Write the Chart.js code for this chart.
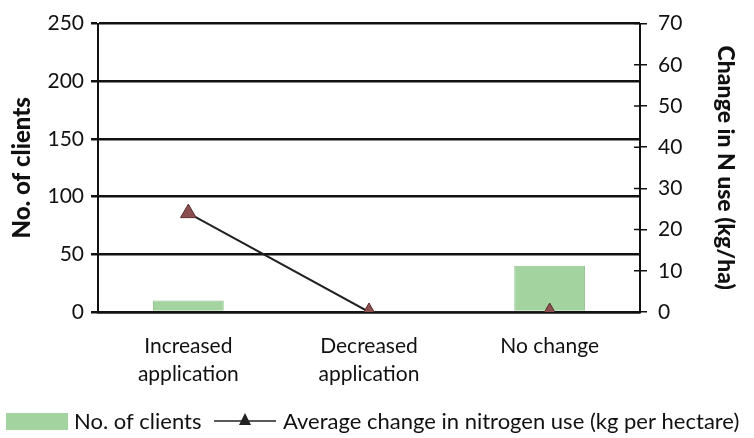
<!DOCTYPE html>
<html>
<head>
<meta charset="utf-8">
<script src="https://cdn.jsdelivr.net/npm/chart.js@4"></script>
<style>
  html, body { margin: 0; padding: 0; background: #fff; }
  #wrap { width: 754px; height: 438px; position: relative; }
</style>
</head>
<body>
<div id="wrap"><canvas id="c"></canvas></div>
<script>
  // данные
  const categories = [["Increased", "application"], ["Decreased", "application"], "No change"];
  const clients = [10, 0, 40];
  const nChange = [24, 0, 0];
  const seriesNames = ["No. of clients", "Average change in nitrogen use (kg per hectare)"];
  const leftTitle = "No. of clients";
  const rightTitle = "Change in N use (kg/ha)";
  const rightTicks = [0, 10, 20, 30, 40, 50, 60, 70];

  const FONT = "Lato, 'Open Sans', sans-serif";
  const BAR_FILL = "#a3d4a0";
  const BAR_EDGE = "#8fc28c";
  const MARK_FILL = "#8c4f4f";
  const INK = "#111";

  // легенда внизу рисуется вручную: прямоугольник + линия с треугольником
  const bottomLegend = {
    id: "bottomLegend",
    afterDraw(chart) {
      const ctx = chart.ctx;
      const y = 421;
      ctx.save();
      ctx.font = "22px " + FONT;
      ctx.textBaseline = "middle";

      ctx.fillStyle = BAR_FILL;
      ctx.fillRect(6, y - 8, 62, 17);
      ctx.fillStyle = INK;
      ctx.fillText(seriesNames[0], 74, y + 1);

      const lx0 = 214, lx1 = 276;
      ctx.strokeStyle = "#222";
      ctx.lineWidth = 1.5;
      ctx.beginPath();
      ctx.moveTo(lx0, y);
      ctx.lineTo(lx1, y);
      ctx.stroke();
      const mx = (lx0 + lx1) / 2;
      ctx.fillStyle = "#222";
      ctx.beginPath();
      ctx.moveTo(mx, y - 8);
      ctx.lineTo(mx + 6, y + 4);
      ctx.lineTo(mx - 6, y + 4);
      ctx.closePath();
      ctx.fill();

      ctx.fillStyle = INK;
      ctx.fillText(seriesNames[1], 283, y + 1);
      ctx.restore();
    },
  };

  // засечки правой оси заходят и внутрь области графика
  const innerTicks = {
    id: "innerTicks",
    afterDatasetsDraw(chart) {
      const s = chart.scales.y2;
      const ctx = chart.ctx;
      ctx.save();
      ctx.strokeStyle = INK;
      ctx.lineWidth = 1.5;
      ctx.beginPath();
      for (const v of rightTicks) {
        const py = s.getPixelForValue(v);
        ctx.moveTo(s.left - 6, py);
        ctx.lineTo(s.left, py);
      }
      ctx.stroke();
      ctx.restore();
    },
  };

  new Chart(document.getElementById("c"), {
    data: {
      labels: categories,
      datasets: [
        {
          type: "line",
          label: seriesNames[1],
          data: nChange,
          yAxisID: "y2",
          borderColor: "#222",
          borderWidth: 2,
          pointStyle: "triangle",
          pointRadius: 9,
          pointBackgroundColor: MARK_FILL,
          pointBorderColor: "#5a2e2e",
          pointBorderWidth: 1,
          fill: false,
          tension: 0,
          order: 0,
        },
        {
          type: "bar",
          label: seriesNames[0],
          data: clients,
          yAxisID: "y",
          backgroundColor: BAR_FILL,
          borderColor: BAR_EDGE,
          borderWidth: 1,
          categoryPercentage: 0.8,
          barPercentage: 0.49,
          order: 1,
        },
      ],
    },
    options: {
      responsive: true,
      maintainAspectRatio: false,
      animation: false,
      layout: { padding: { top: 22, bottom: 46, left: 0, right: 0 } },
      plugins: {
        legend: { display: false },
        tooltip: { enabled: false },
      },
      scales: {
        x: {
          grid: { display: false, drawTicks: false },
          border: { display: true, color: INK, width: 2.5 },
          ticks: {
            color: INK,
            font: { family: FONT, size: 21, lineHeight: 1.33 },
            padding: 20,
            maxRotation: 0,
          },
          afterFit(scale) {
            scale.height = 80;
          },
        },
        y: {
          position: "left",
          min: 0,
          max: 250,
          grid: { color: INK, lineWidth: 2.5, tickLength: 7, drawOnChartArea: true },
          border: { display: true, color: INK, width: 2 },
          ticks: {
            stepSize: 50,
            color: INK,
            font: { family: FONT, size: 21 },
            padding: 7,
          },
          title: {
            display: true,
            text: leftTitle,
            color: INK,
            font: { family: FONT, size: 24, weight: "900" },
            padding: { top: 8, bottom: 0 },
          },
          afterFit(scale) {
            scale.width = 98;
          },
        },
        y2: {
          position: "right",
          min: 0,
          max: 70,
          grid: { color: INK, lineWidth: 1.5, tickLength: 7, drawOnChartArea: false },
          border: { display: true, color: INK, width: 2 },
          ticks: {
            stepSize: 10,
            color: INK,
            font: { family: FONT, size: 21 },
            padding: 11,
          },
          title: {
            display: true,
            text: rightTitle,
            color: INK,
            font: { family: FONT, size: 23, weight: "900" },
            padding: { top: 15, bottom: 0 },
          },
          afterFit(scale) {
            scale.width = 114;
          },
        },
      },
    },
    plugins: [bottomLegend, innerTicks],
  });
</script>
</body>
</html>
